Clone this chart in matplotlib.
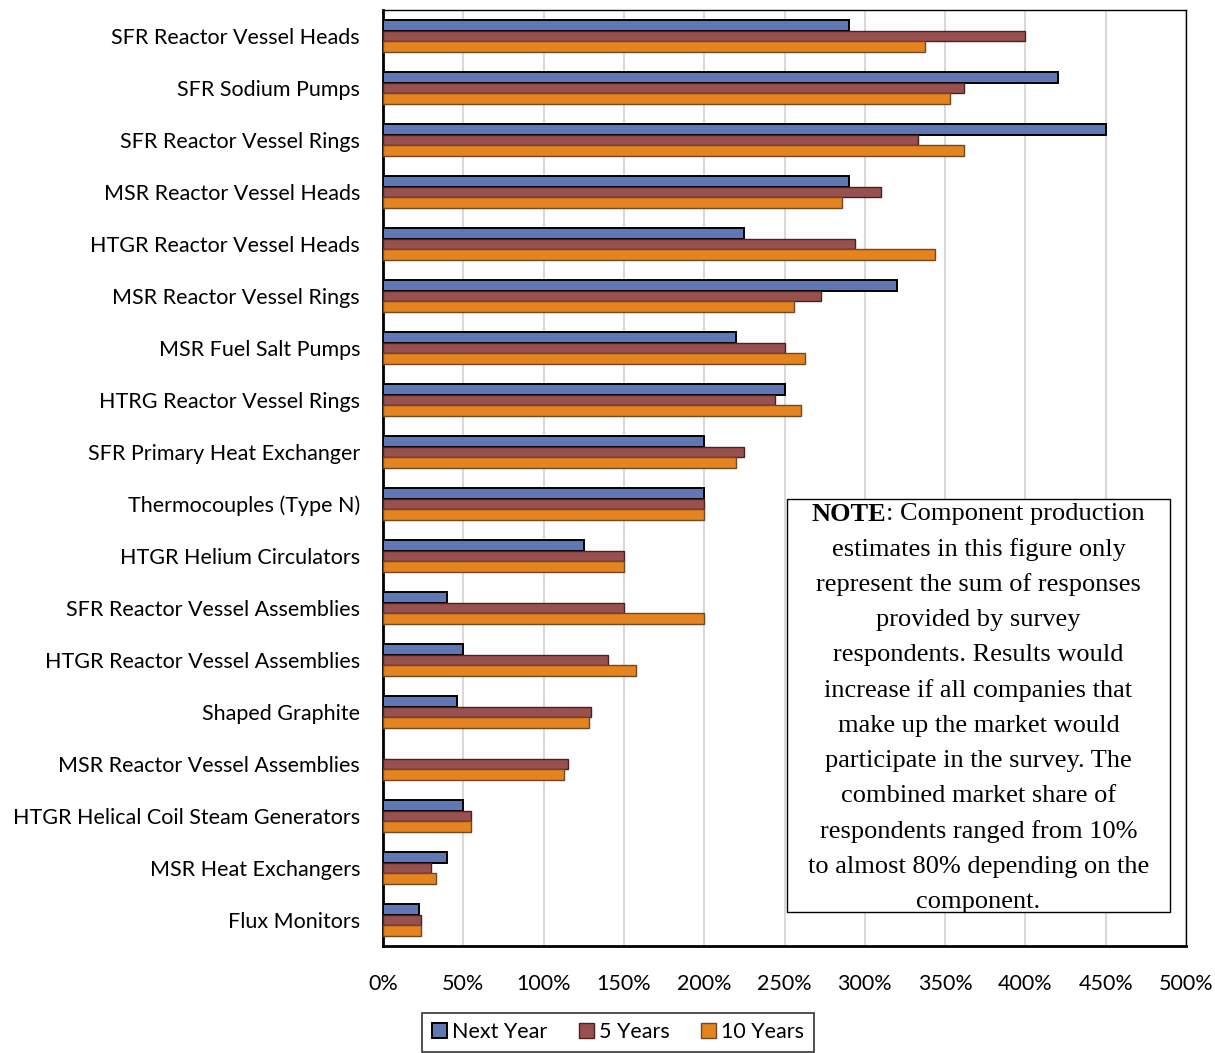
import matplotlib
matplotlib.use("Agg")
import matplotlib.pyplot as plt
import numpy as np
from matplotlib.patches import Rectangle

categories = [
    "SFR Reactor Vessel Heads", "SFR Sodium Pumps", "SFR Reactor Vessel Rings",
    "MSR Reactor Vessel Heads", "HTGR Reactor Vessel Heads", "MSR Reactor Vessel Rings",
    "MSR Fuel Salt Pumps", "HTRG Reactor Vessel Rings", "SFR Primary Heat Exchanger",
    "Thermocouples (Type N)", "HTGR Helium Circulators", "SFR Reactor Vessel Assemblies",
    "HTGR Reactor Vessel Assemblies", "Shaped Graphite", "MSR Reactor Vessel Assemblies",
    "HTGR Helical Coil Steam Generators", "MSR Heat Exchangers", "Flux Monitors",
]
next_year = [290, 420, 450, 290, 225, 320, 220, 250, 200, 200, 125, 40, 50, 46, 0, 50, 40, 22.5]
five_years = [400, 362, 333, 310, 294, 273, 250, 244, 225, 200, 150, 150, 140, 129.5, 115, 55, 30, 23.5]
ten_years = [337.5, 353, 362, 286, 344, 256, 263, 260, 220, 200, 150, 200, 157.5, 128, 113, 55, 33, 23.5]
series_names = ["Next Year", "5 Years", "10 Years"]
xticks = list(range(0, 501, 50))
xtick_labels = [f"{v}%" for v in xticks]

note_lines = [
    "estimates in this figure only",
    "represent the sum of responses",
    "provided by survey",
    "respondents. Results would",
    "increase if all companies that",
    "make up the market would",
    "participate in the survey. The",
    "combined market share of",
    "respondents ranged from 10%",
    "to almost 80% depending on the",
    "component.",
]

colors = ["#5f77b5", "#9b5050", "#e5831f"]
edges = ["#000000", "#4a2222", "#6b4a2a"]
lws = [1.4, 1.0, 1.0]
sans = ["Lato", "DejaVu Sans"]
lab_fs = 15.5

fig = plt.figure(figsize=(12.15, 10.53), dpi=100)
ax = fig.add_axes([383/1215, 1-946/1053, (1186-383)/1215, (946-10)/1053])

n = len(categories)
y = np.arange(n)
h = 0.21
data = [next_year, five_years, ten_years]
for i, (vals, c, e, lw) in enumerate(zip(data, colors, edges, lws)):
    vals = np.array(vals, dtype=float)
    mask = vals > 0
    ax.barh(y[mask] + (i - 1) * h, vals[mask], height=h, color=c, edgecolor=e,
            linewidth=lw, label=series_names[i], zorder=3)

ax.set_ylim(n - 0.5, -0.5)
ax.set_xlim(0, 500)
ax.set_xticks(xticks)
ax.set_xticklabels(xtick_labels)
ax.set_yticks(y)
ax.set_yticklabels(categories)
ax.tick_params(axis="both", length=0, labelsize=lab_fs)
ax.tick_params(axis="y", pad=16.5)
ax.tick_params(axis="x", pad=20)
for lab in ax.get_xticklabels() + ax.get_yticklabels():
    lab.set_fontfamily(sans)
ax.grid(axis="x", color="#d9d9d9", linewidth=1.5, zorder=0)
ax.set_axisbelow(True)
for s in ax.spines.values():
    s.set_color("black")
    s.set_linewidth(1.0)
ax.spines["left"].set_linewidth(2.0)
ax.spines["bottom"].set_linewidth(2.0)

# Legend
leg = fig.legend(loc="upper center", bbox_to_anchor=(618/1215, 1-1002/1053), ncol=3,
                 frameon=True, fancybox=False, edgecolor="black",
                 prop={"family": sans, "size": lab_fs},
                 handlelength=0.7, handleheight=0.7, handletextpad=0.25,
                 columnspacing=1.45, borderpad=0.45)
leg.get_frame().set_linewidth(1.2)

# Note box
box_l, box_r = 787/1215, 1170/1215
box_t, box_b = 1-499/1053, 1-912/1053
fig.patches.append(Rectangle((box_l, box_b), box_r-box_l, box_t-box_b, transform=fig.transFigure,
                             facecolor="white", edgecolor="black", linewidth=1.0, zorder=5))
cx = (box_l + box_r) / 2
fs = 19
serif = ["Liberation Serif", "DejaVu Serif"]
spacing = 35.3 / 1053
y0 = 1 - 514/1053

fig.canvas.draw()
r = fig.canvas.get_renderer()
t1 = fig.text(0, y0, "NOTE", fontsize=fs, fontweight="bold", family=serif, va="center", ha="left", zorder=6)
t2 = fig.text(0, y0, ": Component production", fontsize=fs, family=serif, va="center", ha="left", zorder=6)
w1 = t1.get_window_extent(r).width / fig.bbox.width
w2 = t2.get_window_extent(r).width / fig.bbox.width
start = cx - (w1 + w2) / 2
t1.set_x(start)
t2.set_x(start + w1)
for k, line in enumerate(note_lines, start=1):
    fig.text(cx, y0 - k * spacing, line, fontsize=fs, family=serif, va="center", ha="center", zorder=6)

fig.savefig("out.png", dpi=100)
